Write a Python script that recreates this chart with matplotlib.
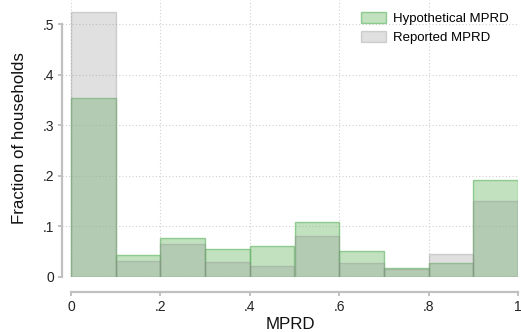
import matplotlib

matplotlib.use("Agg")
import matplotlib.pyplot as plt
import numpy as np

plt.rcParams["font.family"] = ["Liberation Sans", "DejaVu Sans"]

# MPRD histogram, bins of width 0.1 on [0, 1]
bin_left = [0.0, 0.1, 0.2, 0.3, 0.4, 0.5, 0.6, 0.7, 0.8, 0.9]
hypothetical = [0.354, 0.043, 0.077, 0.055, 0.061, 0.109, 0.051, 0.018, 0.028, 0.191]
reported = [0.524, 0.032, 0.065, 0.029, 0.021, 0.081, 0.027, 0.016, 0.046, 0.150]

x_ticks = [0, 0.2, 0.4, 0.6, 0.8, 1.0]
x_labels = ["0", ".2", ".4", ".6", ".8", "1"]
y_ticks = [0, 0.1, 0.2, 0.3, 0.4, 0.5]
y_labels = ["0", ".1", ".2", ".3", ".4", ".5"]

W, H = 521, 332
fig = plt.figure(figsize=(W / 100, H / 100), dpi=100)
left_px, right_px, bottom_px = 62, 518, 277
ax = fig.add_axes([left_px / W, (H - bottom_px) / H, (right_px - left_px) / W, bottom_px / H])

x0 = -(71 - left_px) / (518 - 71)
ax.set_xlim(x0, 1.0)
ax.set_ylim(0, 0.5 + 24 / 506)

ax.bar(bin_left, hypothetical, width=0.1, align="edge",
       facecolor=(0.52, 0.77, 0.50, 0.5), edgecolor=(0.35, 0.70, 0.35, 0.6),
       linewidth=1.0, label="Hypothetical MPRD", zorder=2)
ax.bar(bin_left, reported, width=0.1, align="edge",
       facecolor=(0.6, 0.6, 0.6, 0.3), edgecolor=(0.55, 0.55, 0.55, 0.35),
       linewidth=1.0, label="Reported MPRD", zorder=3)

ax.set_xticks(x_ticks, x_labels)
ax.set_yticks(y_ticks, y_labels)
ax.grid(True, linestyle=(0, (1, 2)), color="#d0d0d0", linewidth=0.8, zorder=1)
ax.set_axisbelow(True)

for side in ("top", "right"):
    ax.spines[side].set_visible(False)
ax.spines["left"].set_bounds(0, 0.5)
ax.spines["bottom"].set_bounds(0, 1)
ax.spines["bottom"].set_position(("outward", 11))
for side in ("left", "bottom"):
    ax.spines[side].set_color("#c0c0c0")
    ax.spines[side].set_linewidth(1.6)
ax.tick_params(axis="both", colors="#b8b8b8", labelcolor="#222222",
               labelsize=10, length=3, width=1.2, pad=2.5)

ax.set_ylabel("Fraction of households", fontsize=12.2, color="#111111", labelpad=11)
ax.set_xlabel("MPRD", fontsize=12.2, color="#111111", labelpad=2)

ax.legend(loc="upper right", bbox_to_anchor=(1.0, 0.99), frameon=False,
          fontsize=9.5, handlelength=1.9, handleheight=0.9,
          handletextpad=0.5, labelspacing=0.45, borderaxespad=0.3)

fig.savefig("out.png", dpi=100)
